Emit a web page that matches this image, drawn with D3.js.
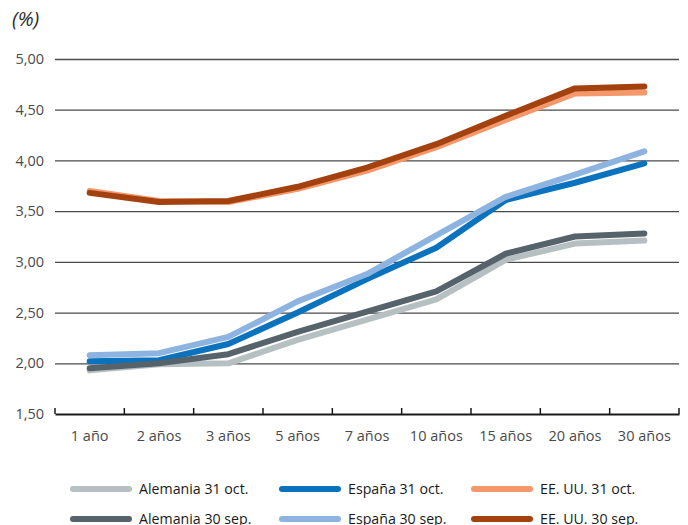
<!DOCTYPE html>
<html>
<head>
<meta charset="utf-8">
<script src="https://cdn.jsdelivr.net/npm/d3@7"></script>
<style>
  html, body { margin: 0; padding: 0; background: #fff; }
  svg { display: block; font-family: "Open Sans", "Noto Sans", sans-serif; }
</style>
</head>
<body>
<svg id="chart" width="688" height="525"></svg>
<script>
// Plazos de la curva de rendimientos
const plazos = ["1 año", "2 años", "3 años", "5 años", "7 años", "10 años", "15 años", "20 años", "30 años"];

// Rentabilidades (%)
const alemania31oct = [1.93, 1.99, 2.00, 2.23, 2.43, 2.63, 3.02, 3.18, 3.21];
const alemania30sep = [1.95, 2.00, 2.09, 2.31, 2.51, 2.71, 3.08, 3.25, 3.28];
const espana31oct   = [2.02, 2.03, 2.19, 2.50, 2.83, 3.14, 3.61, 3.78, 3.97];
const espana30sep   = [2.08, 2.10, 2.26, 2.61, 2.88, 3.26, 3.64, 3.86, 4.09];
const eeuu31oct     = [3.70, 3.60, 3.59, 3.72, 3.90, 4.13, 4.40, 4.66, 4.67];
const eeuu30sep     = [3.68, 3.59, 3.60, 3.74, 3.93, 4.16, 4.44, 4.71, 4.73];

const yTicks = [1.5, 2.0, 2.5, 3.0, 3.5, 4.0, 4.5, 5.0];

const series = [
  { name: "Alemania 31 oct.", values: alemania31oct, color: "#b6c0c3" },
  { name: "España 31 oct.",   values: espana31oct,   color: "#0b72bd" },
  { name: "EE. UU. 31 oct.",  values: eeuu31oct,     color: "#f4976b" },
  { name: "Alemania 30 sep.", values: alemania30sep, color: "#56636b" },
  { name: "España 30 sep.",   values: espana30sep,   color: "#8db3e0" },
  { name: "EE. UU. 30 sep.",  values: eeuu30sep,     color: "#a3420f" }
];

const svg = d3.select("#chart");
const plotLeft = 55, plotRight = 679, plotTop = 59, plotBottom = 414;

const x = d3.scaleBand().domain(plazos).range([plotLeft, plotRight]).padding(0);
const y = d3.scaleLinear().domain([1.5, 5.0]).range([plotBottom, plotTop]);
const fmt = v => d3.format(".2f")(v).replace(".", ",");

// Unidad
svg.append("text")
  .attr("x", 12).attr("y", 26)
  .attr("font-size", 20).attr("font-style", "italic")
  .attr("fill", "#2a2a2a")
  .text("(%)");

// Rejilla horizontal y etiquetas del eje Y
const yAxis = svg.append("g")
  .attr("transform", `translate(${plotLeft},0)`)
  .call(d3.axisLeft(y).tickValues(yTicks).tickFormat(fmt)
    .tickSize(-(plotRight - plotLeft)).tickPadding(11));
yAxis.select(".domain").remove();
yAxis.selectAll(".tick line")
  .attr("stroke", "#4a4a4a").attr("stroke-width", 1.3)
  .filter(d => d === 1.5).remove();
yAxis.selectAll(".tick text")
  .attr("font-size", 14.5).attr("fill", "#4a4a4a")
  .attr("font-family", "'Open Sans', sans-serif");

// Eje X con marcas hacia arriba en los límites de cada plazo
const xAxis = svg.append("g")
  .attr("transform", `translate(0,${plotBottom})`)
  .call(d3.axisBottom(x).tickSize(0).tickPadding(17));
xAxis.select(".domain")
  .attr("stroke", "#1a1a1a").attr("stroke-width", 1.8);
xAxis.selectAll(".tick text")
  .attr("font-size", 14.5).attr("fill", "#4a4a4a")
  .attr("font-family", "'Open Sans', sans-serif");
const bounds = plazos.map(p => x(p)).concat([x(plazos[plazos.length - 1]) + x.bandwidth()]);
xAxis.selectAll(".bound")
  .data(bounds)
  .join("line")
  .attr("class", "bound")
  .attr("x1", d => d).attr("x2", d => d)
  .attr("y1", 0).attr("y2", -6)
  .attr("stroke", "#1a1a1a").attr("stroke-width", 1.5);

// Curvas
const line = d3.line()
  .x((d, i) => x(plazos[i]) + x.bandwidth() / 2)
  .y(d => y(d));

svg.append("g")
  .selectAll("path")
  .data(series)
  .join("path")
  .attr("d", s => line(s.values))
  .attr("fill", "none")
  .attr("stroke", s => s.color)
  .attr("stroke-width", 6)
  .attr("stroke-linecap", "round")
  .attr("stroke-linejoin", "round");

// Leyenda
const legendCols = [73, 282, 474];
const legendRows = [489, 519];
const legend = svg.append("g")
  .selectAll("g")
  .data(series)
  .join("g")
  .attr("transform", (s, i) => `translate(${legendCols[i % 3]},${legendRows[Math.floor(i / 3)]})`);
legend.append("line")
  .attr("x1", 0).attr("x2", 56).attr("y1", 0).attr("y2", 0)
  .attr("stroke", s => s.color)
  .attr("stroke-width", 6)
  .attr("stroke-linecap", "round");
legend.append("text")
  .attr("x", 66).attr("y", 5)
  .attr("font-size", 14.2).attr("fill", "#1a1a1a")
  .text(s => s.name);
</script>
</body>
</html>
